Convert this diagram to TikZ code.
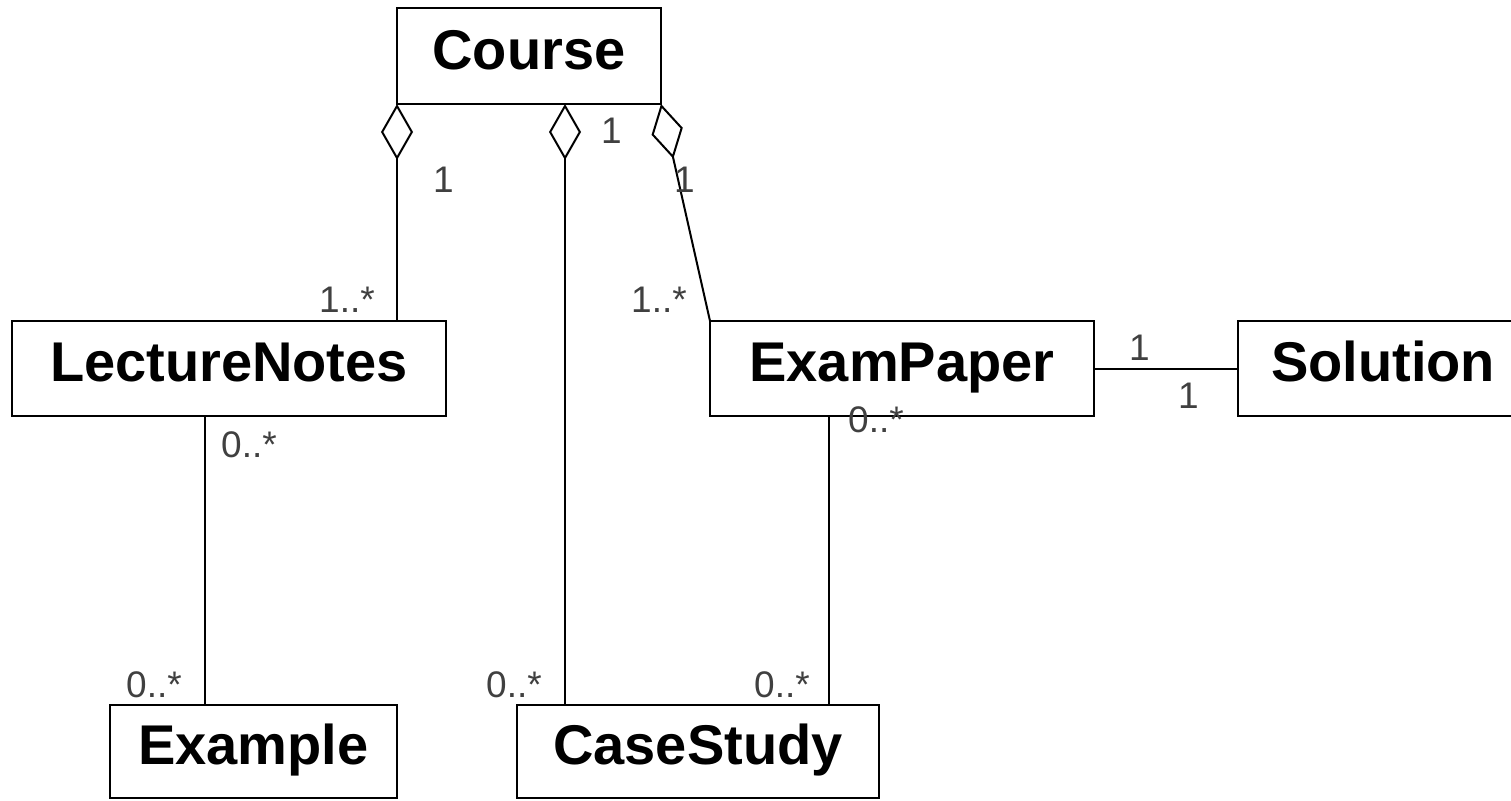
\documentclass[tikz,border=0pt]{standalone}
\usepackage{fontspec}
\setmainfont{Liberation Sans}
\usetikzlibrary{arrows.meta}
\begin{document}
\begin{tikzpicture}[x=1pt,y=-1pt,
  cls/.style={draw, line width=2.2pt, rectangle, inner sep=0pt, outer sep=0pt, anchor=north west,
    font=\fontsize{56}{60}\selectfont\bfseries, text height=42pt, text depth=16pt},
  conn/.style={line width=2pt},
  mult/.style={anchor=base west, inner sep=0pt, text=black!75, font=\fontsize{37}{40}\selectfont},
  agg/.style={{Diamond[open,length=56pt,width=32pt,line width=2pt]}-}
]
\useasboundingbox (0,0) rectangle (1511,800);
% classes
\node[cls, minimum width=264pt, minimum height=96pt] (course) at (397,8) {Course};
\node[cls, minimum width=434pt, minimum height=95pt] (lecture) at (12,321) {LectureNotes};
\node[cls, minimum width=384pt, minimum height=95pt] (exam) at (710,321) {ExamPaper};
\node[cls, minimum width=284pt, minimum height=95pt, text width=274pt, align=left] (solution) at (1238,321) {\hspace*{28pt}Solution};
\node[cls, minimum width=287pt, minimum height=93pt] (example) at (110,705) {Example};
\node[cls, minimum width=362pt, minimum height=93pt] (case) at (517,705) {CaseStudy};
% helper coordinates
\coordinate (cmid) at (565,104);
\coordinate (lnx) at (205,416);
\coordinate (epx) at (829,416);
% connectors
\draw[conn, agg] (course.south west) -- (course.south west |- lecture.north);
\draw[conn, agg] (cmid) -- (cmid |- case.north);
\draw[conn, agg] (course.south east) -- (exam.north west);
\draw[conn] (lnx) -- (lnx |- example.north);
\draw[conn] (epx) -- (epx |- case.north);
\draw[conn] (exam.east) -- (solution.west);
% multiplicities
\node[mult] (m1) at (433,192) {1};
\node[mult] (m2) at (319,312) {1..*};
\node[mult] (m3) at (601,143) {1};
\node[mult] (m4) at (674,192) {1};
\node[mult] (m5) at (631,312) {1..*};
\node[mult] (m6) at (1129,360) {1};
\node[mult] (m7) at (1178,408) {1};
\node[mult] (m8) at (848,432) {0..*};
\node[mult] (m9) at (221,457) {0..*};
\node[mult] (m10) at (126,697) {0..*};
\node[mult] (m11) at (486,697) {0..*};
\node[mult] (m12) at (754,697) {0..*};
\end{tikzpicture}
\end{document}
